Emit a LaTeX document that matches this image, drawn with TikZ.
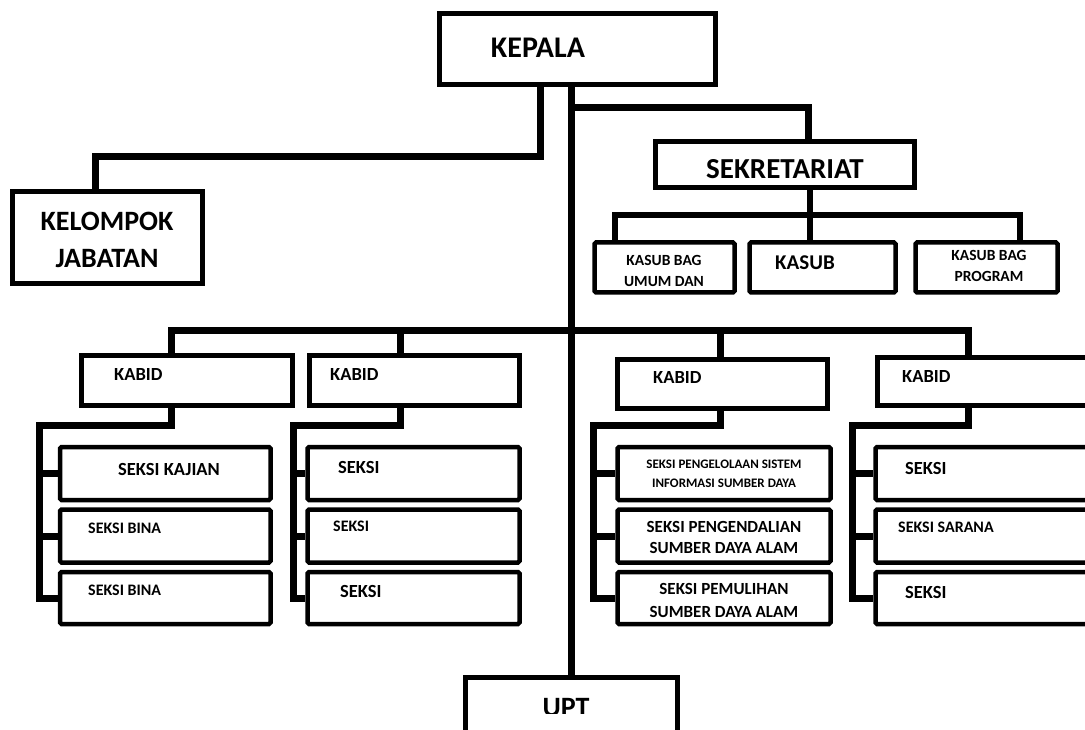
\documentclass[tikz,border=0pt]{standalone}
\usepackage{fontspec}
\setmainfont{Carlito}
\usetikzlibrary{fit, calc}

\begin{document}
\begin{tikzpicture}[
    x=1pt, y=-1pt, % pixel-like grid, y going down
    % Styles
    box/.style={ % plain unit box
        draw,
        line width=5pt,
        inner sep=0pt
    },
    sbox/.style={ % smaller boxes (kasub, seksi)
        box,
        line width=4.5pt,
        rounded corners=1.5pt
    },
    link/.style={ % main connectors
        line width=7pt
    },
    slink/.style={ % thinner connectors
        line width=6pt
    },
    txt/.style={ % one-line label
        inner sep=0pt,
        font=\bfseries\fontsize{#1}{#1}\selectfont
    },
    ltxt/.style={ % left aligned label
        txt=#1,
        anchor=west
    },
    mtxt/.style 2 args={ % two-line label
        inner sep=0pt,
        align=center,
        font=\bfseries\fontsize{#1}{#2}\selectfont
    }
]
    \useasboundingbox (0,0) rectangle (1085,730);

    % Top level
    \node[box, fit={(439.5,13.5) (715.5,84.5)}] (kp) {};
    \node[txt=30] (kp-t) at (538,48) {KEPALA};

    \node[box, fit={(12.5,191.5) (202.5,283.5)}] (kel) {};
    \node[mtxt={28}{37}] (kel-t) at (107,240) {KELOMPOK\\JABATAN};

    \node[box, fit={(655.5,141.5) (914.5,187.5)}] (sek) {};
    \node[txt=29] (sek-t) at (785,169) {SEKRETARIAT};

    % Kasub bag
    \node[sbox, fit={(594.5,242.5) (734.5,292.5)}] (ks1) {};
    \node[mtxt={15.5}{21}] (ks1-t) at (664,271) {KASUB BAG\\UMUM DAN};
    \node[sbox, fit={(749.5,242.5) (895.5,292.5)}] (ks2) {};
    \node[ltxt=21] (ks2-t) at (775,263) {KASUB};
    \node[sbox, fit={(915.5,242.5) (1057.5,292.5)}] (ks3) {};
    \node[mtxt={15.5}{21}] (ks3-t) at (989,266) {KASUB BAG\\PROGRAM};

    % Kabid
    \foreach \i/\l/\t/\r/\b/\tx/\ty in {1/81.5/355.5/292.5/405.5/114/375,
                                         2/309.5/355.5/519.5/405.5/330/375,
                                         3/617.5/359.5/827.5/408.5/653/378,
                                         4/877.5/357.5/1100/405.5/902/377} {
        \node[box, fit={(\l,\t) (\r,\b)}] (kb\i) {};
        \node[ltxt=18.5] (kb\i-t) at (\tx,\ty) {KABID};
    }

    % Seksi boxes
    \foreach \i/\l/\r in {1/60/270.5, 2/307.5/519.5, 3/617.5/830.5, 4/875.5/1100} {
        \node[sbox, fit={(\l,447) (\r,500)}] (s\i1) {};
        \node[sbox, fit={(\l,509.5) (\r,562.5)}] (s\i2) {};
        \node[sbox, fit={(\l,572) (\r,624)}] (s\i3) {};
    }
    \node[txt=18.5] (s11-t) at (169,469) {SEKSI KAJIAN};
    \node[ltxt=16] (s12-t) at (88,528) {SEKSI BINA};
    \node[ltxt=16] (s13-t) at (88,590) {SEKSI BINA};
    \node[ltxt=18.5] (s21-t) at (338,467) {SEKSI};
    \node[ltxt=16] (s22-t) at (333,526) {SEKSI};
    \node[ltxt=18.5] (s23-t) at (340,591) {SEKSI};
    \node[mtxt={13}{19}] (s31-t) at (724,473.5) {SEKSI PENGELOLAAN SISTEM\\INFORMASI SUMBER DAYA};
    \node[mtxt={17}{21}] (s32-t) at (724,537.5) {SEKSI PENGENDALIAN\\SUMBER DAYA ALAM};
    \node[mtxt={17}{23}] (s33-t) at (724,600.5) {SEKSI PEMULIHAN\\SUMBER DAYA ALAM};
    \node[ltxt=18.5] (s41-t) at (905,468) {SEKSI};
    \node[ltxt=16] (s42-t) at (898,527) {SEKSI SARANA};
    \node[ltxt=18.5] (s43-t) at (905,592) {SEKSI};

    % UPT
    \node[box, fit={(465.5,677.5) (677.5,760)}] (upt) {};
    \begin{scope}
        \clip (463,670) rectangle (680,713);
        \node[txt=28] (upt-t) at (566,708) {UPT};
    \end{scope}

    % Connectors
    \coordinate (tr) at (571,0);
    \draw[link] (kp.south -| tr) -- (upt.north -| tr);

    \coordinate (kl) at (540,157);
    \coordinate (kr) at (95,157);
    \draw[link] (kp.south -| kl) -- (kl) -- (kr) -- (kel.north -| kr);

    \coordinate (sj) at (571,108);
    \coordinate (sd) at (808,108);
    \draw[link] (sj) -- (sd) -- (sek.north -| sd);

    \coordinate (kb) at (810,215);
    \coordinate (kl1) at (615,215);
    \coordinate (kr1) at (1020,215);
    \draw[slink] (sek.south -| kb) -- (kb) -- (ks2.north -| kb);
    \draw[slink] (ks1.north -| kl1) -- (kl1) -- (kr1) -- (ks3.north -| kr1);

    \coordinate (ka) at (171,330);
    \coordinate (kz) at (968,330);
    \draw[link] (kb1.north -| ka) -- (ka) -- (kz) -- (kb4.north -| kz);

    \foreach \i/\dx/\vx in {1/171/39, 2/400/293, 3/720/593, 4/968/852} {
        \draw[link] (\dx,330) -- (kb\i.north -| \dx,0);
        \draw[link] (kb\i.south -| \dx,0) -- (\dx,425) -- (\vx,425) |- (s\i3.west);
        \draw[link] (\vx,0 |- s\i1.west) -- (s\i1.west);
        \draw[link] (\vx,0 |- s\i2.west) -- (s\i2.west);
    }
\end{tikzpicture}
\end{document}
